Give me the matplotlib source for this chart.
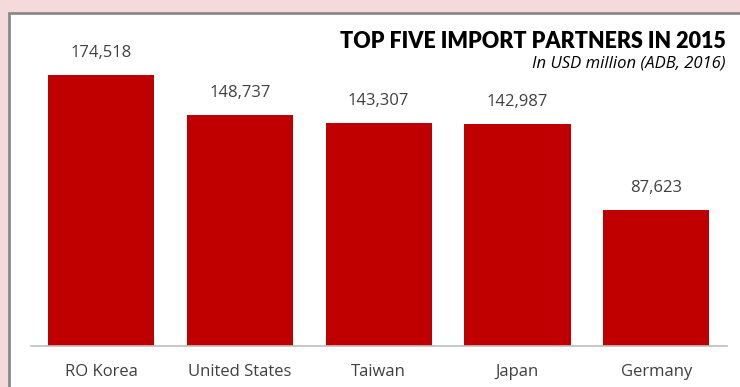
import matplotlib.pyplot as plt
from matplotlib.patches import Rectangle

partners = ['RO Korea', 'United States', 'Taiwan', 'Japan', 'Germany']
imports_usd_m = [174518, 148737, 143307, 142987, 87623]
value_labels = ['174,518', '148,737', '143,307', '142,987', '87,623']

W, H = 740, 387
fig = plt.figure(figsize=(W / 100, H / 100), dpi=100)
fig.patch.set_facecolor('#f6dadb')

# white panel with grey frame on left and top, running off the right/bottom edges
panel = Rectangle((9 / W, -0.1), 1.1, (H - 13) / H + 0.1, transform=fig.transFigure,
                  facecolor='white', edgecolor='#8a8a8a', linewidth=2, zorder=-1)
fig.patches.append(panel)

ax = fig.add_axes([31 / W, (H - 346) / H, (727 - 31) / W, (346 - 13) / H])
ax.set_facecolor('none')
ax.set_zorder(1)

x = range(len(partners))
ax.bar(x, imports_usd_m, width=0.765, color='#c00000', zorder=2)
for i, lab in enumerate(value_labels):
    ax.text(i, imports_usd_m[i] + 9000, lab, ha='center', va='bottom',
            fontsize=12, color='#404040', family='Open Sans')

ax.set_xlim(-0.505, 4.51)
ax.set_ylim(0, 214400)
ax.set_xticks(list(x))
ax.set_xticklabels(partners, fontsize=12, color='#404040', family='Open Sans')
ax.tick_params(axis='x', length=0, pad=13)
ax.set_yticks([])
for s in ['top', 'right', 'left']:
    ax.spines[s].set_visible(False)
ax.spines['bottom'].set_color('#bfbfbf')
ax.spines['bottom'].set_linewidth(1.2)

fig.text(726 / W, 1 - 41 / H, 'TOP FIVE IMPORT PARTNERS IN 2015', ha='right',
         va='center', fontsize=15.5, fontweight='heavy', color='black', family='Lato')
fig.text(726 / W, 1 - 63 / H, 'In USD million (ADB, 2016)', ha='right',
         va='center', fontsize=12, style='italic', color='black', family='Open Sans')

fig.savefig('out.png', dpi=100, facecolor=fig.get_facecolor())
